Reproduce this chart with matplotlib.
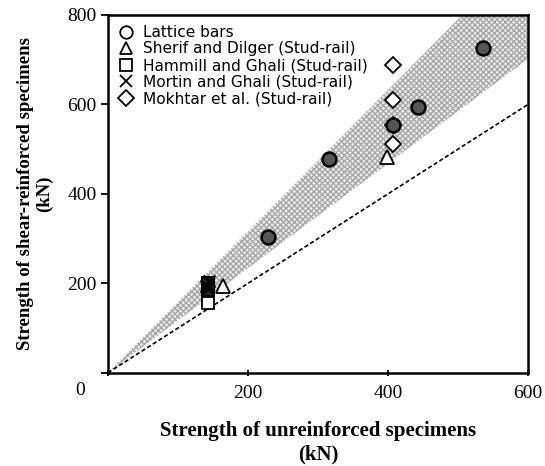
import matplotlib as mpl
mpl.use('Agg')
import matplotlib.pyplot as plt
import numpy as np

# data (kN)
lattice_x = [229, 316, 407, 443, 536]
lattice_y = [304, 478, 553, 594, 726]
sherif_x = [165, 398]
sherif_y = [193, 483]
hammill_x = [143, 143, 143]
hammill_y = [155, 186, 200]
mortin_x = [140, 145, 143]
mortin_y = [195, 205, 190]
mokhtar_x = [407, 407, 407, 407]
mokhtar_y = [688, 610, 553, 512]

band_low = 1.17   # lower slope of shaded band
band_high = 1.58  # upper slope of shaded band

fig = plt.figure(figsize=(5.45, 4.66), dpi=100)
ax = fig.add_axes([0.198, 0.200, 0.771, 0.768])

# shaded band
xb = np.linspace(0, 600, 200)
ax.fill_between(xb, band_low * xb, np.minimum(band_high * xb, 800),
                facecolor='#ececec', edgecolor='#a8a8a8', hatch='xxxxxx',
                linewidth=0, zorder=1)
# equality line
ax.plot([0, 600], [0, 600], color='black', linestyle=(0, (2.5, 1.5)), linewidth=1.2, zorder=2)

ms = 9
ax.plot(sherif_x, sherif_y, linestyle='none', marker='^', markersize=ms + 1,
        markerfacecolor='white', markeredgecolor='black', markeredgewidth=1.3, zorder=3)
ax.plot(hammill_x, hammill_y, linestyle='none', marker='s', markersize=ms,
        markerfacecolor='white', markeredgecolor='black', markeredgewidth=1.3, zorder=3)
ax.plot(mortin_x, mortin_y, linestyle='none', marker='x', markersize=ms,
        color='black', markeredgewidth=1.8, zorder=4)
ax.plot(hammill_x[1:], hammill_y[1:], linestyle='none', marker='s', markersize=ms,
        markerfacecolor='#222222', markeredgecolor='black', markeredgewidth=1.3, zorder=3)
ax.plot(mokhtar_x, mokhtar_y, linestyle='none', marker='D', markersize=ms - 1,
        markerfacecolor='white', markeredgecolor='black', markeredgewidth=1.3, zorder=3)
ax.plot(lattice_x, lattice_y, linestyle='none', marker='o', markersize=ms + 1,
        markerfacecolor='#555555', markeredgecolor='black', markeredgewidth=1.8, zorder=5)

# legend handles (open symbols)
hl = []
for m, lab, s in [('o', 'Lattice bars', ms),
                  ('^', 'Sherif and Dilger (Stud-rail)', ms),
                  ('s', 'Hammill and Ghali (Stud-rail)', ms),
                  ('x', 'Mortin and Ghali (Stud-rail)', ms),
                  ('D', 'Mokhtar et al. (Stud-rail)', ms - 1)]:
    h, = ax.plot([], [], linestyle='none', marker=m, markersize=s,
                 markerfacecolor='none', markeredgecolor='black', markeredgewidth=1.3, label=lab)
    hl.append(h)
ax.legend(handles=hl, loc='upper left', bbox_to_anchor=(0.0, 1.0), frameon=False,
          prop={'family': 'DejaVu Sans', 'size': 11.1}, handletextpad=0.5,
          labelspacing=0.1, borderaxespad=0.25, handlelength=1.1)

ax.set_xlim(0, 600)
ax.set_ylim(0, 800)
ax.set_xticks([0, 200, 400, 600])
ax.set_xticklabels(['', '200', '400', '600'])
ax.set_yticks([0, 200, 400, 600, 800])
ax.set_yticklabels(['', '200', '400', '600', '800'])
ax.tick_params(axis='x', direction='inout', length=5, width=1.3, pad=6)
ax.tick_params(axis='y', direction='out', length=5, width=1.3, pad=3)
for lab in ax.get_xticklabels() + ax.get_yticklabels():
    lab.set_family('Liberation Serif')
    lab.set_fontsize(14)
ax.text(-0.067, -0.05, '0', transform=ax.transAxes, family='Liberation Serif',
        fontsize=14, ha='center', va='center')
for sp in ax.spines.values():
    sp.set_linewidth(1.8)

ax.set_xlabel('Strength of unreinforced specimens\n(kN)', family='Liberation Serif',
              fontweight='bold', fontsize=15, labelpad=14, linespacing=1.25)
ax.set_ylabel('Strength of shear-reinforced specimens\n(kN)', family='Liberation Serif',
              fontweight='bold', fontsize=13.5, labelpad=10, linespacing=1.15)

fig.savefig('out.png', dpi=100)
